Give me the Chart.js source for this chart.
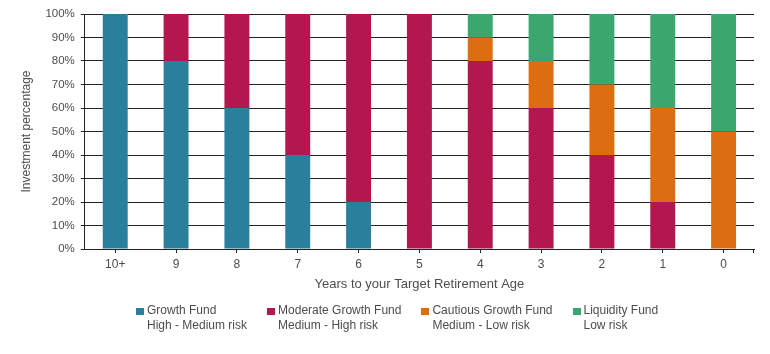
<!DOCTYPE html>
<html>
<head>
<meta charset="utf-8">
<script src="https://cdn.jsdelivr.net/npm/chart.js@4.4.1/dist/chart.umd.min.js"></script>
<style>
  html, body { margin: 0; padding: 0; background: #fff; }
  #wrap { width: 770px; height: 354px; position: relative; }
  #legend { position: absolute; left: 136px; top: 303px; display: flex;
            font: 12px 'Liberation Sans', Arial, sans-serif; color: #4d4d4d; line-height: 14.7px; }
  .item { display: flex; align-items: flex-start; margin-right: 20px; }
  .box { width: 8px; height: 7px; margin: 4.5px 3px 0 0; flex: none; }
</style>
</head>
<body>
<div id="wrap">
  <canvas id="retirementChart" width="770" height="354"></canvas>
  <div id="legend"></div>
</div>
<script>
// Years to target retirement age
const years = ["10+", "9", "8", "7", "6", "5", "4", "3", "2", "1", "0"];

// Fund allocations (%)
const growthFund     = [100, 80, 60, 40, 20, 0, 0, 0, 0, 0, 0];
const moderateFund   = [0, 20, 40, 60, 80, 100, 80, 60, 40, 20, 0];
const cautiousFund   = [0, 0, 0, 0, 0, 0, 10, 20, 30, 40, 50];
const liquidityFund  = [0, 0, 0, 0, 0, 0, 10, 20, 30, 40, 50];

const fundNames = ["Growth Fund", "Moderate Growth Fund", "Cautious Growth Fund", "Liquidity Fund"];
const fundRisks = ["High - Medium risk", "Medium - High risk", "Medium - Low risk", "Low risk"];
const fundColors = ["#2a7f9d", "#b2184e", "#dd6d11", "#3ba76f"];

const textColor = "#4d4d4d";
const lineColor = "#222222";
Chart.defaults.font.family = "'Liberation Sans', Arial, sans-serif";
Chart.defaults.font.size = 11;
Chart.defaults.color = textColor;

const allFunds = [growthFund, moderateFund, cautiousFund, liquidityFund];

// small closing tick at the right end of the x axis
const endTick = {
    id: "endTick",
    afterDraw(chart) {
        const { ctx, chartArea } = chart;
        ctx.save();
        ctx.strokeStyle = lineColor;
        ctx.lineWidth = 1;
        ctx.beginPath();
        const x = Math.round(chartArea.right) - 0.5;
        ctx.moveTo(x, chartArea.bottom);
        ctx.lineTo(x, chartArea.bottom + 4);
        ctx.stroke();
        ctx.restore();
    }
};

const chart = new Chart(document.getElementById("retirementChart"), {
    type: "bar",
    data: {
        labels: years,
        datasets: allFunds.map((vals, i) => ({
            label: fundNames[i],
            data: vals,
            backgroundColor: fundColors[i],
            borderWidth: 0,
            categoryPercentage: 1,
            barPercentage: 0.41
        }))
    },
    options: {
        responsive: false,
        animation: false,
        layout: { padding: { top: 14, right: 16, left: 15, bottom: 62 } },
        plugins: {
            tooltip: { enabled: false },
            legend: { display: false }
        },
        scales: {
            x: {
                stacked: true,
                grid: {
                    display: true,
                    drawOnChartArea: false,
                    drawTicks: true,
                    tickLength: 4,
                    offset: false,
                    color: lineColor
                },
                border: { display: true, color: lineColor },
                ticks: { padding: 4, font: { size: 12 } },
                title: {
                    display: true,
                    text: "Years to your Target Retirement Age",
                    font: { size: 13 },
                    padding: { top: 1, bottom: 0 }
                }
            },
            y: {
                stacked: true,
                min: 0,
                max: 100,
                grid: { color: lineColor, tickLength: 4 },
                border: { display: true, color: lineColor },
                ticks: {
                    stepSize: 10,
                    padding: 6,
                    font: { size: 11.5 },
                    callback: v => v + "%"
                },
                title: {
                    display: true,
                    text: "Investment percentage",
                    font: { size: 12 },
                    padding: { bottom: 6 }
                }
            }
        }
    },
    plugins: [endTick]
});

// two-line legend below the chart
const legendEl = document.getElementById("legend");
fundNames.forEach((name, i) => {
    const item = document.createElement("div");
    item.className = "item";
    item.innerHTML = '<span class="box" style="background:' + fundColors[i] + '"></span>' +
        '<span>' + name + '<br>' + fundRisks[i] + '</span>';
    legendEl.appendChild(item);
});
</script>
</body>
</html>
